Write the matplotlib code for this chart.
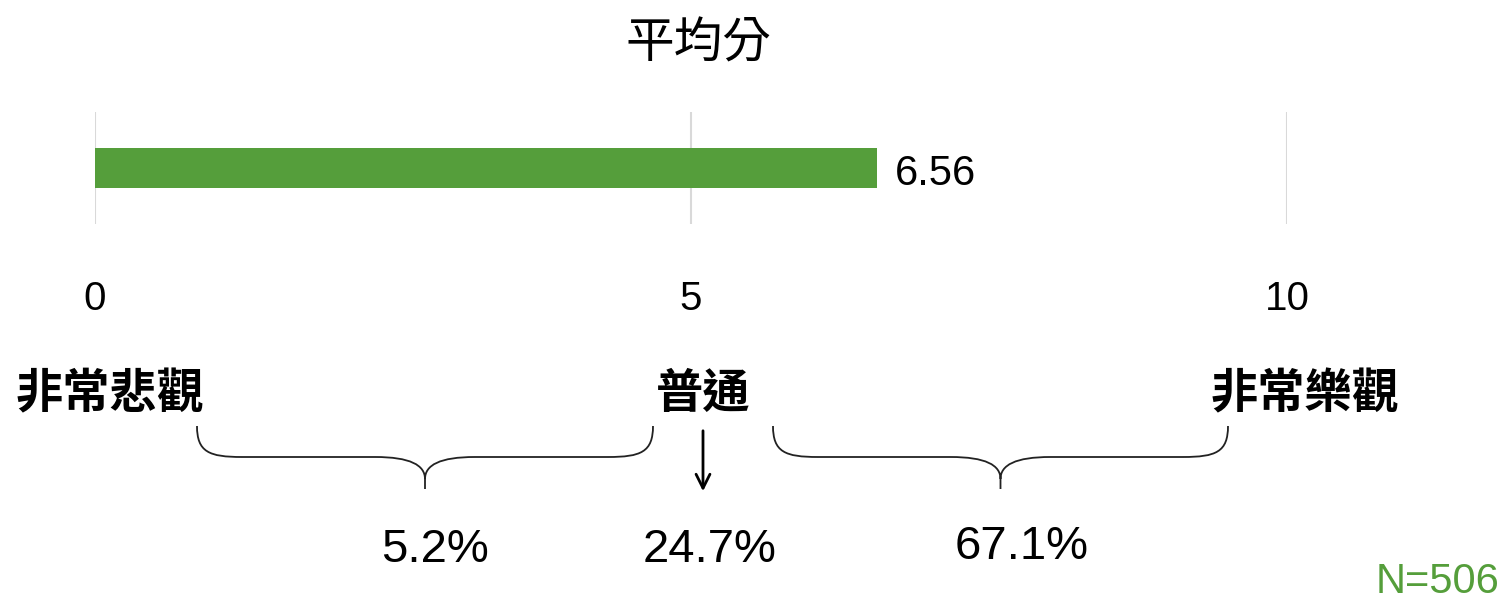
import matplotlib.pyplot as plt
from matplotlib.path import Path
from matplotlib.patches import PathPatch

plt.rcParams['font.family'] = ['Liberation Sans', 'Noto Sans CJK TC', 'DejaVu Sans']

# === Daten ===
title = '平均分'
mean_score = 6.56
ticks = [0, 5, 10]
scale_labels = ['非常悲觀', '普通', '非常樂觀']
shares = ['5.2%', '24.7%', '67.1%']
n_text = 'N=506'
green = '#559E3B'

W, H = 1506, 599
fig = plt.figure(figsize=(W / 100, H / 100), dpi=100)

# === Balken ===
ax = fig.add_axes([95 / W, 1 - 224 / H, (1287 - 95) / W, 112 / H])
ax.barh([0], [mean_score], height=1.0, color=green, zorder=2)
ax.set_xlim(0, 10)
ax.set_ylim(-1.4, 1.4)
ax.set_xticks(ticks)
ax.grid(axis='x', color='#d9d9d9', linewidth=1.5, zorder=0)
ax.tick_params(axis='x', length=0, labelsize=29, pad=40)
ax.set_yticks([])
for s in ax.spines.values():
    s.set_visible(False)
ax.text(mean_score + 0.15, -0.15, f'{mean_score:.2f}', va='center', ha='left', fontsize=30)

# === Overlay in Pixelkoordinaten ===
ov = fig.add_axes([0, 0, 1, 1], facecolor='none')
ov.set_xlim(0, W)
ov.set_ylim(H, 0)
ov.axis('off')

ov.text(698, 45, title, ha='center', va='center', fontsize=35)

label_x = [110, 703, 1305]
for x, lab in zip(label_x, scale_labels):
    ov.text(x, 396, lab, ha='center', va='center', fontsize=34, fontweight='bold')


def brace(x0, x1, ytop, ymid, ytip):
    xm = (x0 + x1) / 2
    verts = [(x0, ytop),
             (x0, ymid - 5), (x0 + 12, ymid), (x0 + 45, ymid),
             (xm - 50, ymid),
             (xm - 15, ymid), (xm, ymid + 8), (xm, ymid + 22),
             (xm, ytip),
             (xm, ymid + 22),
             (xm, ymid + 8), (xm + 15, ymid), (xm + 50, ymid),
             (x1 - 45, ymid),
             (x1 - 12, ymid), (x1, ymid - 5), (x1, ytop)]
    codes = [Path.MOVETO,
             Path.CURVE4, Path.CURVE4, Path.CURVE4,
             Path.LINETO,
             Path.CURVE4, Path.CURVE4, Path.CURVE4,
             Path.LINETO,
             Path.MOVETO,
             Path.CURVE4, Path.CURVE4, Path.CURVE4,
             Path.LINETO,
             Path.CURVE4, Path.CURVE4, Path.CURVE4]
    ov.add_patch(PathPatch(Path(verts, codes), fill=False, color='#222222', linewidth=1.3))


brace(197, 653, 426, 457, 489)
brace(773, 1228, 426, 457, 489)
ov.annotate('', xy=(703, 494), xytext=(703, 428),
            arrowprops=dict(arrowstyle='->', color='black', linewidth=2, mutation_scale=25))

share_x = [435, 710, 1022]
share_y = [550, 550, 547]
for x, y, s in zip(share_x, share_y, shares):
    ov.text(x, y, s, ha='center', va='center', fontsize=34)

ov.text(1500, 582, n_text, ha='right', va='center', fontsize=30, color=green)

fig.savefig('out.png', dpi=100)
